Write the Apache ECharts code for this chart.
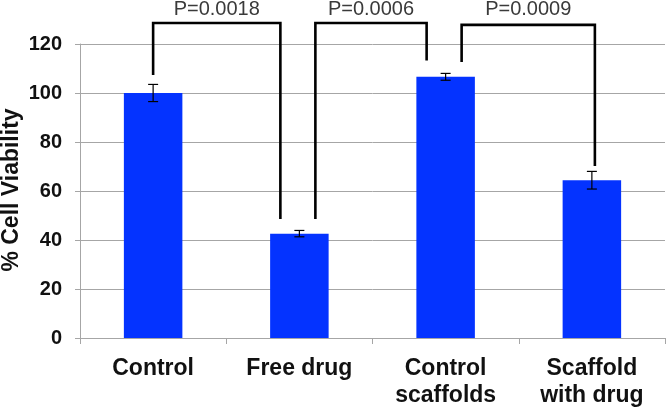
<!DOCTYPE html>
<html>
<head>
<meta charset="utf-8">
<script src="https://cdn.jsdelivr.net/npm/echarts@6/dist/echarts.min.js"></script>
<style>
html,body{margin:0;padding:0;background:#fff;}
#chart{width:666px;height:408px;}
</style>
</head>
<body>
<div id="chart"></div>
<script>
// ---- data ----
const categories = ['Control', 'Free drug', 'Control\nscaffolds', 'Scaffold\nwith drug'];
const viability = [100, 42.6, 106.6, 64.4];
const errors = [3.5, 1.3, 1.4, 3.6];
const yTicks = [0, 20, 40, 60, 80, 100, 120];
const yTitle = '% Cell Viability';
// significance brackets
const bracketFrom = [0, 1, 2];
const bracketTo = [1, 2, 3];
const bracketTop = [128.6, 128.6, 127.8];
const bracketLeftEnd = [107.3, 48.6, 112.7];
const bracketRightEnd = [48.6, 113.3, 70.2];
const pLabels = ['P=0.0018', 'P=0.0006', 'P=0.0009'];

const chart = echarts.init(document.getElementById('chart'), null, {renderer: 'canvas'});

const barData = viability.map((v, i) => [i, v]);
const errData = viability.map((v, i) => [i, v, errors[i]]);
const bracketData = bracketFrom.map((f, i) => [f, bracketTo[i], bracketTop[i], bracketLeftEnd[i], bracketRightEnd[i], i]);

function legShift(idx, side) {
  // offset legs when two brackets share a category
  if (side === 'right' && bracketFrom.indexOf(bracketTo[idx]) >= 0) return -19;
  if (side === 'left' && bracketTo.indexOf(bracketFrom[idx]) >= 0) return 16;
  return side === 'right' ? 3 : 0;
}

const option = {
  animation: false,
  backgroundColor: '#fff',
  grid: {left: 80, right: 1, top: 44, bottom: 70, containLabel: false, outerBoundsMode: 'none'},
  graphic: [{
    type: 'text',
    x: 12, y: 190,
    rotation: Math.PI / 2,
    style: {
      text: yTitle, align: 'center', verticalAlign: 'middle', fill: '#111',
      fontFamily: 'Liberation Sans, Arial, sans-serif', fontWeight: 'bold', fontSize: 23
    }
  }],
  xAxis: {
    type: 'category',
    data: categories,
    boundaryGap: true,
    axisLine: {show: true, lineStyle: {color: '#a6a6a6', width: 1}},
    axisTick: {show: true, alignWithLabel: false, length: 6, lineStyle: {color: '#a6a6a6'}},
    axisLabel: {
      color: '#111', fontFamily: 'Liberation Sans, Arial, sans-serif', fontWeight: 'bold',
      fontSize: 23, lineHeight: 27, margin: 17, interval: 0
    },
    splitLine: {show: false}
  },
  yAxis: {
    type: 'value',
    min: yTicks[0], max: yTicks[yTicks.length - 1], interval: 20,
    axisLine: {show: true, lineStyle: {color: '#a6a6a6', width: 1}},
    axisTick: {show: true, length: 5, lineStyle: {color: '#a6a6a6'}},
    axisLabel: {color: '#111', fontFamily: 'Liberation Sans, Arial, sans-serif', fontWeight: 'bold', fontSize: 20, margin: 18},
    splitLine: {show: true, lineStyle: {color: '#a6a6a6', width: 1}}
  },
  series: [
    {
      type: 'bar',
      data: barData,
      barWidth: '40%',
      itemStyle: {color: '#0433ff'},
      z: 2
    },
    {
      type: 'custom',
      data: errData,
      encode: {x: 0, y: 1},
      z: 3,
      renderItem: function (params, api) {
        const i = api.value(0), v = api.value(1), e = api.value(2);
        const hi = api.coord([i, v + e]);
        const lo = api.coord([i, v - e]);
        const w = 5;
        return {
          type: 'group',
          children: [
            {type: 'line', shape: {x1: hi[0], y1: hi[1], x2: lo[0], y2: lo[1]}, style: {stroke: '#000', lineWidth: 1.2}},
            {type: 'line', shape: {x1: hi[0] - w, y1: hi[1], x2: hi[0] + w, y2: hi[1]}, style: {stroke: '#000', lineWidth: 1.2}},
            {type: 'line', shape: {x1: lo[0] - w, y1: lo[1], x2: lo[0] + w, y2: lo[1]}, style: {stroke: '#000', lineWidth: 1.2}}
          ]
        };
      }
    },
    {
      type: 'custom',
      data: bracketData,
      encode: {x: 0, y: 2},
      clip: false,
      z: 4,
      renderItem: function (params, api) {
        const f = api.value(0), t = api.value(1), top = api.value(2);
        const le = api.value(3), re = api.value(4), k = api.value(5);
        const pl = api.coord([f, le]);
        const pt = api.coord([f, top]);
        const pr = api.coord([t, re]);
        const xl = pl[0] + legShift(k, 'left');
        const xr = pr[0] + legShift(k, 'right');
        return {
          type: 'group',
          children: [
            {type: 'polyline', shape: {points: [[xl, pl[1]], [xl, pt[1]], [xr, pt[1]], [xr, pr[1]]]},
             style: {stroke: '#000', lineWidth: 2.6, fill: null, lineJoin: 'miter'}},
            {type: 'text', style: {text: pLabels[k], x: (xl + xr) / 2, y: 9, align: 'center', verticalAlign: 'middle',
              fill: '#3a3a3a', fontSize: 20, fontFamily: 'Liberation Sans, Arial, sans-serif'}}
          ]
        };
      }
    }
  ]
};
chart.setOption(option);
</script>
</body>
</html>
